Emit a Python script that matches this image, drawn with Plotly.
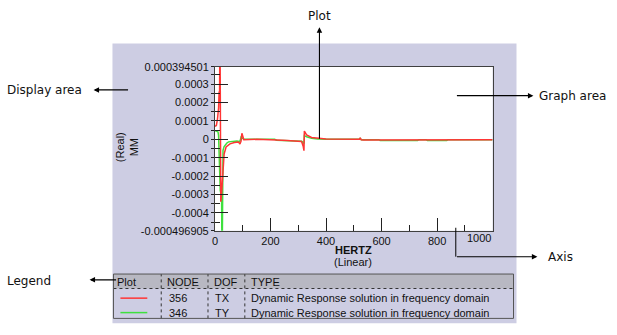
import plotly.graph_objects as go

W, H = 617, 335

# Frequency response, node 356 / TX (real part, MM)
freq_tx = [0, 5, 9, 13, 15, 16.5, 18, 21, 24, 27, 30, 33, 40, 54, 70, 85, 90, 94,
           97, 101, 104, 150, 215, 222, 260, 300, 312, 318, 320.5, 322, 330, 348,
           377, 400, 515, 520, 523, 527, 534, 590, 595, 835, 840, 1000]
mm_tx = [7.0e-5, 7.5e-5, 1.1e-4, 1.7e-4, 2.6e-4, 2.1e-4, 6.5e-4, -3.4e-4, -2.9e-4,
         -2.0e-4, -1.2e-4, -8.0e-5, -4.2e-5, -2.5e-5, -1.7e-5, -1.5e-5, -2.6e-5,
         -1.0e-5, 3.3e-5, 1.0e-5, -3e-6, 0, 0, -4e-6, -6e-6, -8e-6, -1.2e-5,
         -4.0e-5, -6.2e-5, 4.5e-5, 2.4e-5, 1.0e-5, 4e-6, 1e-6, 0, 0, 8e-6, -3e-6,
         -4e-6, -4e-6, 0, 0, -3e-6, -3e-6]

# Frequency response, node 346 / TY (real part, MM)
freq_ty = [0, 6, 11, 13, 14.5, 17, 19, 22, 24, 25.5, 29, 33, 37, 43, 49, 60, 79,
           88, 91, 94, 97, 100, 104, 150, 215, 222, 260, 300, 312, 318, 320.5, 322,
           330, 348, 370, 400, 520, 523, 527, 590, 595, 730, 735, 760, 765, 835,
           840, 900, 1000]
mm_ty = [4.7e-5, 4.5e-5, 4.0e-5, 2.0e-5, -8.7e-5, -1.6e-4, -2.8e-4, -3.0e-4,
         -3.3e-4, -7.5e-4, -6.0e-5, -4.0e-5, -3.1e-5, -2.0e-5, -1.4e-5, -1.1e-5,
         -9e-6, -1.2e-5, -6e-6, 1.2e-5, 8e-6, 2e-6, 0, 0, 0, -5e-6, -7e-6, -9e-6,
         -1.1e-5, -1.8e-5, -2.4e-5, 2.0e-5, 1.4e-5, 5e-6, 1e-6, 0, 0, 5e-6, -2e-6,
         -2e-6, -6e-6, -6e-6, -2e-6, -2e-6, -6e-6, -6e-6, -2e-6, -2e-6, -2e-6]

# Axis settings
y_min, y_max = -0.000496905, 0.000394501
y_major = [0.000394501, 0.0003, 0.0002, 0.0001, 0, -0.0001, -0.0002, -0.0003,
           -0.0004, -0.000496905]
y_major_text = ["0.000394501", "0.0003", "0.0002", "0.0001", "0", "-0.0001",
                "-0.0002", "-0.0003", "-0.0004", "-0.000496905"]
y_minor = [0.00035, 0.00025, 0.00015, 0.00005, -0.00005, -0.00015, -0.00025,
           -0.00035, -0.00045]
x_major = [0, 200, 400, 600, 800]
x_major_text = ["0", "200", "400", "600", "800"]
x_minor = [100, 300, 500, 700, 900]
x_max = 1000

# Legend table contents
legend_nodes = ["356", "346"]
legend_dofs = ["TX", "TY"]
legend_types = ["Dynamic Response solution in frequency domain",
                "Dynamic Response solution in frequency domain"]
legend_colors = ["#ff3535", "#3ee03e"]

LAVENDER = "#cdcde3"
AXIS_COL = "#404040"
TICK_FONT = dict(family="Liberation Sans, Arial, sans-serif", size=11, color="#111")
CALLOUT_FONT = dict(family="DejaVu Sans, Verdana, sans-serif", size=12, color="#111")


def fx(p):
    return p / W


def fy(p):
    return 1 - p / H


PL, PR, PT, PB = 213, 492, 63, 233

fig = go.Figure()
fig.add_trace(go.Scatter(x=freq_ty, y=mm_ty, mode="lines", yaxis="y",
                         line=dict(color=legend_colors[1], width=1.5),
                         hoverinfo="skip"))
fig.add_trace(go.Scatter(x=freq_tx, y=mm_tx, mode="lines", yaxis="y2",
                         line=dict(color=legend_colors[0], width=1.5),
                         hoverinfo="skip"))

shapes = []
# display area background
shapes.append(dict(type="rect", xref="paper", yref="paper", layer="below",
                   x0=fx(110), x1=fx(516), y0=fy(329), y1=fy(39),
                   fillcolor=LAVENDER, line=dict(width=0)))
shapes.append(dict(type="rect", xref="paper", yref="paper", layer="below",
                   x0=fx(PL), x1=fx(PR), y0=fy(PB), y1=fy(PT),
                   fillcolor="white", line=dict(width=0)))

# legend table
TL, TR, TT, THB, TB = 111, 513, 278, 293, 324
shapes.append(dict(type="rect", xref="paper", yref="paper",
                   x0=fx(TL), x1=fx(TR), y0=fy(THB), y1=fy(TT),
                   fillcolor="#b8b8c2", line=dict(width=0)))
shapes.append(dict(type="line", xref="paper", yref="paper",
                   x0=fx(TL), x1=fx(TR), y0=fy(THB), y1=fy(THB),
                   line=dict(color="#333", width=1, dash="dot")))
col_x = [159, 206, 243]
for cx in col_x:
    shapes.append(dict(type="line", xref="paper", yref="paper",
                       x0=fx(cx), x1=fx(cx), y0=fy(TB), y1=fy(TT),
                       line=dict(color="#333", width=1, dash="dot")))
shapes.append(dict(type="rect", xref="paper", yref="paper",
                   x0=fx(TL), x1=fx(TR), y0=fy(TB), y1=fy(TT),
                   line=dict(color="#555", width=1)))
row_y = [303, 318]
for ry, col in zip(row_y, legend_colors):
    shapes.append(dict(type="line", xref="paper", yref="paper",
                       x0=fx(118), x1=fx(145), y0=fy(ry), y1=fy(ry),
                       line=dict(color=col, width=1.5)))

# axis callout elbow
shapes.append(dict(type="line", xref="paper", yref="paper",
                   x0=fx(455), x1=fx(455), y0=fy(230), y1=fy(260),
                   line=dict(color="black", width=1)))

ann = []


def text(px, py, s, font, xanchor="left", yanchor="middle", angle=0):
    ann.append(dict(xref="paper", yref="paper", x=fx(px), y=fy(py), text=s,
                    showarrow=False, xanchor=xanchor, yanchor=yanchor,
                    font=font, textangle=angle, borderpad=0))


def arrow(tip, tail):
    ann.append(dict(xref="paper", yref="paper", x=fx(tip[0]), y=fy(tip[1]),
                    text="", showarrow=True, axref="pixel", ayref="pixel",
                    ax=tail[0] - tip[0], ay=tail[1] - tip[1], arrowhead=2,
                    arrowsize=1, arrowwidth=1.1, arrowcolor="black",
                    standoff=0, startstandoff=0))


# axis titles and last x tick label
text(124, 146, "(Real)<br>MM", TICK_FONT, xanchor="center", angle=-90)
text(352, 253, "<b>HERTZ</b>", TICK_FONT, xanchor="center")
text(352, 265, "(Linear)", TICK_FONT, xanchor="center")
ann.append(dict(xref="x", yref="paper", x=x_max, y=fy(241), text=str(x_max),
                showarrow=False, xanchor="right", yanchor="middle", font=TICK_FONT))

# table text
header = ["Plot", "NODE", "DOF", "TYPE"]
header_x = [114, 164, 211, 248]
for hx, h in zip(header_x, header):
    text(hx, 286, h, TICK_FONT)
for ry, n, d, t in zip(row_y, legend_nodes, legend_dofs, legend_types):
    text(166, ry, n, TICK_FONT)
    text(212, ry, d, TICK_FONT)
    text(248, ry, t, TICK_FONT)

# callouts
text(3, 87, "Display area", CALLOUT_FONT)
arrow((91, 87), (127, 87))
text(318, 10, "Plot", CALLOUT_FONT, xanchor="center")
arrow((318, 22), (318, 135))
text(538, 93, "Graph area", CALLOUT_FONT)
arrow((533, 93), (455, 93))
text(547, 260, "Axis", CALLOUT_FONT)
arrow((537, 260), (455, 260))
text(3, 285, "Legend", CALLOUT_FONT)
arrow((87, 284), (115, 284))

fig.update_layout(
    width=W, height=H, margin=dict(l=0, r=0, t=0, b=0),
    paper_bgcolor="white", plot_bgcolor="rgba(0,0,0,0)", showlegend=False,
    xaxis=dict(domain=[fx(PL), fx(PR)], range=[0, x_max], tickmode="array",
               tickvals=x_major, ticktext=x_major_text, ticks="inside",
               ticklen=13, tickwidth=1, tickcolor="#222", showline=True,
               linecolor=AXIS_COL, linewidth=1, mirror=True, showgrid=False,
               zeroline=False, tickfont=TICK_FONT,
               minor=dict(tickvals=x_minor, ticks="inside", ticklen=6,
                          tickcolor="#222", showgrid=False)),
    yaxis=dict(domain=[fy(PB), fy(PT)], range=[y_min, y_max], tickmode="array",
               tickvals=y_major, ticktext=y_major_text, ticks="outside",
               ticklen=3, tickwidth=1, tickcolor="#222", showline=True,
               linecolor=AXIS_COL, linewidth=1, mirror=True, showgrid=False,
               zeroline=False, tickfont=TICK_FONT,
               minor=dict(tickvals=y_minor, ticks="outside", ticklen=3,
                          tickcolor="#222", showgrid=False)),
    yaxis2=dict(overlaying="y", side="left", anchor="x", range=[y_min, y_max],
                tickmode="array", tickvals=y_major[1:-1], ticks="inside",
                ticklen=13, tickwidth=1, tickcolor="#222", showticklabels=False,
                showline=False, showgrid=False, zeroline=False,
                minor=dict(tickvals=y_minor + [y_major[0], y_major[-1]],
                           ticks="inside", ticklen=5, tickcolor="#222",
                           showgrid=False)),
    shapes=shapes,
    annotations=ann,
)

fig.write_html("out.html")
